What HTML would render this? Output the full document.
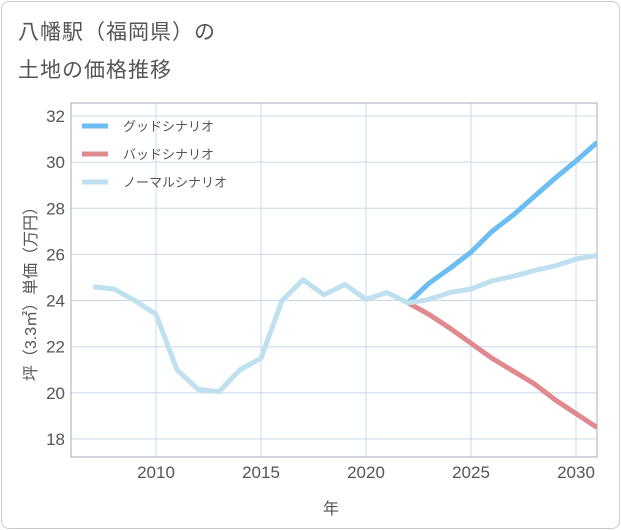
<!DOCTYPE html>
<html><head><meta charset="utf-8"><style>
body{margin:0;background:#fff;font-family:"Liberation Sans","Noto Sans CJK JP",sans-serif;}
#card{position:absolute;left:1px;top:1px;width:617px;height:526px;border:1px solid #ccc;border-radius:8px;background:#fff;}
.t{position:absolute;left:18px;font-size:21px;color:#555;letter-spacing:1px;}
</style></head><body>
<div id="card"></div>
<div class="t" style="top:16px">八幡駅（福岡県）の</div>
<div class="t" style="top:54px">土地の価格推移</div>
<svg id="c" width="621" height="530" style="position:absolute;left:0;top:0"></svg>
<script>
const years=[2007,2008,2009,2010,2011,2012,2013,2014,2015,2016,2017,2018,2019,2020,2021,2022,2023,2024,2025,2026,2027,2028,2029,2030,2031];
const normal=[24.6,24.5,24.0,23.4,21.0,20.15,20.05,21.0,21.5,24.0,24.9,24.25,24.7,24.05,24.35,23.9,24.05,24.35,24.5,24.85,25.05,25.3,25.5,25.8,25.95];
const fYears=[2022,2023,2024,2025,2026,2027,2028,2029,2030,2031];
const good=[23.9,24.75,25.4,26.1,27.0,27.7,28.5,29.3,30.05,30.85];
const bad=[23.9,23.4,22.8,22.15,21.5,20.95,20.4,19.7,19.1,18.5];
const yTicks=[18,20,22,24,26,28,30,32];
const xTicks=[2010,2015,2020,2025,2030];
const L=71,R=597,T=103,B=457;
const x=v=>156+(v-2010)*21, y=v=>116+(32-v)*23.07;
const s=document.getElementById('c'),NS='http://www.w3.org/2000/svg';
function el(t,a,p){const e=document.createElementNS(NS,t);for(const k in a)e.setAttribute(k,a[k]);(p||s).appendChild(e);return e;}
const clip=el('clipPath',{id:'pc'});el('rect',{x:L,y:T,width:R-L,height:B-T},clip);
yTicks.forEach(v=>{const g=el('line',{x1:L,x2:R,y1:y(v),y2:y(v),stroke:'#c8d8e8','stroke-width':1});

const t=el('text',{x:L-6,y:y(v)+6,'text-anchor':'end','font-size':17,fill:'#555'});t.textContent=v;
});
xTicks.forEach(v=>{const g=el('line',{x1:x(v),x2:x(v),y1:T,y2:B,stroke:'#c8d8e8','stroke-width':1});

const t=el('text',{x:x(v),y:B+21,'text-anchor':'middle','font-size':17,fill:'#555'});t.textContent=v;
});
const box=el('rect',{x:L,y:T,width:R-L,height:B-T,fill:'none',stroke:'#aab','stroke-width':1});

function line(xs,vs,c,n){const p=el('polyline',{points:xs.map((v,i)=>x(v)+','+y(vs[i])).join(' '),fill:'none',stroke:c,'stroke-width':5,'stroke-linejoin':'round','clip-path':'url(#pc)'});
}
line(fYears,bad,'#e08a90','bad-scenario-line');
line(fYears,good,'#6bbdf2','good-scenario-line');
line(years,normal,'#bfe0ee','normal-scenario-line');
[['グッドシナリオ','#6bbdf2'],['バッドシナリオ','#e08a90'],['ノーマルシナリオ','#bfe0ee']].forEach((d,i)=>{
const yy=126+i*28;const l=el('line',{x1:82,x2:108,y1:yy,y2:yy,stroke:d[1],'stroke-width':5});

const t=el('text',{x:123,y:yy+5,'font-size':13,fill:'#555'});t.textContent=d[0];
});
const yl=el('text',{x:0,y:0,transform:'translate(36,290) rotate(-90)','text-anchor':'middle','font-size':16,fill:'#555'});yl.textContent='坪（3.3㎡）単価（万円）';

const xl=el('text',{x:331,y:514,'text-anchor':'middle','font-size':16,fill:'#555'});xl.textContent='年';

</script></body></html>
